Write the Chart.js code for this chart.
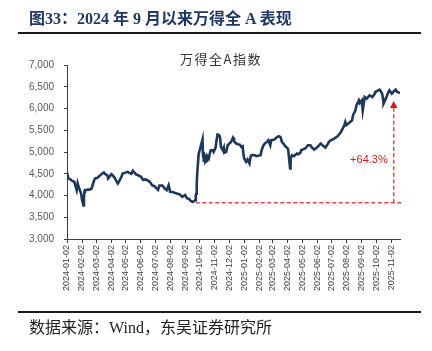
<!DOCTYPE html>
<html>
<head>
<meta charset="utf-8">
<script src="https://cdn.jsdelivr.net/npm/chart.js@4.4.1/dist/chart.umd.min.js"></script>
<style>
  html, body { margin:0; padding:0; background:#fff; }
  body { width:432px; height:351px; position:relative; overflow:hidden; }
  #c { position:absolute; left:0; top:0; }
  .hdr { position:absolute; left:29px; top:9px; line-height:20px; font-size:16px; font-weight:bold;
         font-family:"Liberation Serif","Noto Sans CJK SC",serif; color:#1f3864; white-space:nowrap; }
  .rule { position:absolute; left:18px; width:403px; background:#1a1a1a; }
  .ftr { position:absolute; left:29px; top:318px; line-height:20px; font-size:16px;
         font-family:"Liberation Serif","Noto Sans CJK SC",serif; color:#222; white-space:nowrap; }
</style>
</head>
<body>
<canvas id="c" width="432" height="351"></canvas>
<div class="hdr">图33：2024 年 9 月以来万得全 A 表现</div>
<div class="rule" style="top:32px;height:2px;"></div>
<div class="rule" style="top:311px;height:2px;"></div>
<div class="ftr">数据来源：Wind，东吴证券研究所</div>
<script>
const chartTitle = '万得全A指数';
const tickLabels = ['2024-01-02','2024-02-02','2024-03-02','2024-04-02','2024-05-02','2024-06-02',
  '2024-07-02','2024-08-02','2024-09-02','2024-10-02','2024-11-02','2024-12-02',
  '2025-01-02','2025-02-02','2025-03-02','2025-04-02','2025-05-02','2025-06-02',
  '2025-07-02','2025-08-02','2025-09-02','2025-10-02','2025-11-02'];
const yTicks = [3000,3500,4000,4500,5000,5500,6000,6500,7000];

const dates = [
 '2024-01-02','2024-01-05','2024-01-09','2024-01-12','2024-01-17','2024-01-22','2024-01-24','2024-01-26',
 '2024-01-31','2024-02-02','2024-02-05','2024-02-06','2024-02-07','2024-02-08','2024-02-19','2024-02-22',
 '2024-02-26','2024-02-29','2024-03-04','2024-03-07','2024-03-11','2024-03-14','2024-03-18','2024-03-21',
 '2024-03-25','2024-03-27','2024-04-01','2024-04-03','2024-04-08','2024-04-12','2024-04-16','2024-04-19',
 '2024-04-23','2024-04-26','2024-04-30','2024-05-06','2024-05-10','2024-05-14','2024-05-17','2024-05-21',
 '2024-05-24','2024-05-28','2024-06-03','2024-06-07','2024-06-12','2024-06-17','2024-06-21','2024-06-26',
 '2024-07-01','2024-07-05','2024-07-08','2024-07-11','2024-07-17','2024-07-22','2024-07-26','2024-07-30',
 '2024-08-02','2024-08-07','2024-08-12','2024-08-16','2024-08-22','2024-08-27','2024-09-02','2024-09-06',
 '2024-09-10','2024-09-13','2024-09-18','2024-09-23','2024-09-24','2024-09-25','2024-09-26','2024-09-27',
 '2024-09-30','2024-10-08','2024-10-09','2024-10-10','2024-10-11','2024-10-14','2024-10-15','2024-10-17',
 '2024-10-18','2024-10-21','2024-10-23','2024-10-25','2024-10-29','2024-10-31','2024-11-04','2024-11-06',
 '2024-11-08','2024-11-11','2024-11-13','2024-11-15','2024-11-19','2024-11-21','2024-11-22','2024-11-26',
 '2024-11-29','2024-12-03','2024-12-06','2024-12-10','2024-12-12','2024-12-13','2024-12-17','2024-12-20',
 '2024-12-24','2024-12-27','2024-12-30','2024-12-31','2025-01-02','2025-01-06','2025-01-09','2025-01-13',
 '2025-01-15','2025-01-17','2025-01-21','2025-01-24','2025-01-27','2025-02-05','2025-02-07','2025-02-11',
 '2025-02-14','2025-02-18','2025-02-21','2025-02-25','2025-02-27','2025-03-04','2025-03-07','2025-03-10',
 '2025-03-14','2025-03-18','2025-03-21','2025-03-24','2025-03-28','2025-04-02','2025-04-03','2025-04-07',
 '2025-04-08','2025-04-09','2025-04-11','2025-04-15','2025-04-21','2025-04-24','2025-04-28','2025-04-30',
 '2025-05-08','2025-05-14','2025-05-19','2025-05-22','2025-05-27','2025-06-03','2025-06-09','2025-06-13',
 '2025-06-19','2025-06-24','2025-06-26','2025-06-30','2025-07-07','2025-07-14','2025-07-21','2025-07-28',
 '2025-07-30','2025-08-01','2025-08-06','2025-08-13','2025-08-15','2025-08-20','2025-08-22','2025-08-27',
 '2025-08-29','2025-09-02','2025-09-04','2025-09-08','2025-09-12','2025-09-18','2025-09-24','2025-09-29',
 '2025-09-30','2025-10-09','2025-10-10','2025-10-14','2025-10-16','2025-10-17','2025-10-20','2025-10-23',
 '2025-10-27','2025-10-29','2025-11-03','2025-11-06','2025-11-11','2025-11-14','2025-11-18','2025-11-20'];

const values = [
 4521,4390,4370,4340,4315,4124,4277,4200,
 4048,3900,3770,3950,4085,4124,4140,4162,
 4315,4392,4400,4430,4468,4500,4530,4491,
 4468,4392,4468,4491,4430,4353,4277,4330,
 4420,4506,4520,4544,4520,4500,4567,4520,
 4480,4468,4430,4360,4370,4345,4315,4238,
 4210,4162,4130,4230,4230,4160,4124,4238,
 4085,4080,4060,4045,4025,3970,4009,3933,
 3925,3878,3850,3890,4000,4040,4250,4500,
 4950,5290,4900,5000,4850,4900,4774,4790,
 4900,4850,4966,5041,5041,5002,5100,5271,
 5401,5390,5346,5117,5041,5100,4980,5002,
 5156,5200,5232,5333,5300,5232,5195,5180,
 5171,5117,5133,5000,4851,4774,4828,4736,
 4880,4927,4930,4927,4904,4927,5041,5156,
 5195,5232,5271,5156,5271,5280,5300,5333,
 5362,5346,5232,5195,5133,5080,5050,4620,
 4800,4880,4927,4904,4966,4950,4980,5041,
 5080,5156,5156,5102,5057,5117,5195,5156,
 5100,5190,5230,5271,5309,5362,5461,5614,
 5691,5620,5660,5729,5844,5958,6073,6188,
 6127,6188,5958,6264,6226,6303,6264,6342,
 6379,6433,6420,6342,6226,6112,6180,6264,
 6379,6417,6342,6379,6433,6379,6365,6350];

// annotation values
const baseValue = 3833;
const baseStartDate = '2024-09-24';
const arrowDate = '2025-11-07';
const arrowTopValue = 6175;
const gainLabel = '+64.3%';
const gainLabelValue = 4810;

const origin = Date.UTC(2024,0,2);
function dayOff(s){ const p = s.split('-').map(Number); return (Date.UTC(p[0],p[1]-1,p[2]) - origin)/86400000; }
const tickMap = {};
tickLabels.forEach(t => { tickMap[dayOff(t)] = t; });

const annot = {
  id: 'annot',
  beforeDatasetsDraw(chart){
    const {ctx, scales:{x, y}, chartArea} = chart;
    const red = '#e04848';
    ctx.save();
    ctx.strokeStyle = red; ctx.lineWidth = 1.5; ctx.setLineDash([4,2.5]);
    const by = y.getPixelForValue(baseValue);
    ctx.beginPath();
    ctx.moveTo(x.getPixelForValue(dayOff(baseStartDate)), by);
    ctx.lineTo(chartArea.right + 1.5, by);
    ctx.stroke();
    const ax = x.getPixelForValue(dayOff(arrowDate));
    const ty = y.getPixelForValue(arrowTopValue);
    ctx.beginPath();
    ctx.moveTo(ax, by);
    ctx.lineTo(ax, ty + 6);
    ctx.stroke();
    ctx.setLineDash([]);
    ctx.fillStyle = '#c81e1e';
    ctx.beginPath();
    ctx.moveTo(ax, ty);
    ctx.lineTo(ax - 3.8, ty + 7);
    ctx.lineTo(ax + 3.8, ty + 7);
    ctx.closePath();
    ctx.fill();
    ctx.font = '11px "Liberation Sans", Arial, sans-serif';
    ctx.textAlign = 'right'; ctx.textBaseline = 'middle';
    ctx.fillStyle = '#c81e1e';
    ctx.fillText(gainLabel, ax - 6, y.getPixelForValue(gainLabelValue));
    ctx.restore();
  },
  afterDraw(chart){
    const {ctx} = chart;
    ctx.save();
    ctx.font = '13px "Noto Sans CJK SC", sans-serif';
    ctx.fillStyle = '#333';
    ctx.textAlign = 'center'; ctx.textBaseline = 'middle';
    try { ctx.letterSpacing = '1.5px'; } catch(e) {}
    ctx.fillText(chartTitle, 221, 59.5);
    ctx.restore();
  }
};

new Chart(document.getElementById('c'), {
  type: 'line',
  data: {
    datasets: [{
      data: dates.map((d,i) => ({x: dayOff(d), y: values[i]})),
      borderColor: '#1f385a',
      borderWidth: 2.6,
      pointRadius: 0,
      tension: 0,
      fill: false
    }]
  },
  options: {
    responsive: false,
    animation: false,
    devicePixelRatio: 1,
    layout: { padding: { left: 0, right: 32, top: 65, bottom: 0 } },
    plugins: { legend: { display: false }, tooltip: { enabled: false }, title: { display: false } },
    scales: {
      x: {
        type: 'linear',
        min: 0,
        max: dayOff(dates[dates.length-1]),
        afterBuildTicks: s => { s.ticks = tickLabels.map(t => ({ value: dayOff(t) })); },
        afterFit: s => { s.height = 112; },
        ticks: {
          autoSkip: false, minRotation: 90, maxRotation: 90, padding: 2,
          color: '#404040',
          font: { size: 9, family: '"Liberation Sans", Arial, sans-serif' },
          callback: v => tickMap[v] || ''
        },
        grid: { drawOnChartArea: false, drawTicks: true, tickLength: 4, color: '#404040' },
        border: { color: '#404040', width: 1 }
      },
      y: {
        min: 3000, max: 7000,
        afterBuildTicks: s => { s.ticks = yTicks.map(v => ({ value: v })); },
        afterFit: s => { s.width = 67; },
        ticks: {
          padding: 10, color: '#595959',
          font: { size: 10, family: '"Liberation Sans", Arial, sans-serif' },
          callback: v => Number(v).toLocaleString('en-US')
        },
        grid: { drawOnChartArea: false, drawTicks: true, tickLength: 3, color: '#404040' },
        border: { color: '#404040', width: 1 }
      }
    }
  },
  plugins: [annot]
});
</script>
</body>
</html>
